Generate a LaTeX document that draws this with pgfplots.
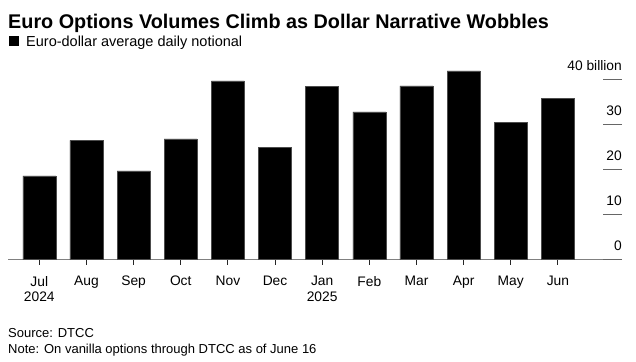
\documentclass[border=0pt]{standalone}
\usepackage{pgfplots}
\pgfplotsset{compat=1.18}
\usepackage{fontspec}
\setmainfont{Liberation Sans}
\begin{document}
\begin{tikzpicture}[x=1bp,y=1bp]
\path[use as bounding box] (0,0) rectangle (636,361);
% title and subtitle
\node[anchor=base west, inner sep=0, font=\fontsize{19.8bp}{22bp}\selectfont\bfseries] at (8,332.3) {Euro Options Volumes Climb as Dollar Narrative Wobbles};
\fill[black] (8.5,314.7) rectangle (19,325.2);
\node[anchor=base west, inner sep=0, font=\fontsize{14.5bp}{16bp}\selectfont] at (26,314.7) {Euro-dollar average daily notional};
\begin{axis}[
  at={(8bp,101.5bp)}, anchor=south west,
  scale only axis, width=614bp, height=198bp,
  xmin=-0.664, xmax=12.36, ymin=0, ymax=44,
  axis x line*=bottom, axis y line=none,
  x axis line style={draw=black!50, line width=1.3bp, -},
  xtick=data,
  xticklabels={{Jul\\2024},Aug,Sep,Oct,Nov,Dec,{Jan\\2025},Feb,Mar,Apr,May,Jun},
  xticklabel style={align=center, font=\fontsize{13.8bp}{15.5bp}\selectfont, yshift=-8bp},
  tick align=outside, major tick length=5bp,
  xtick style={draw=black!85, line width=0.9bp},
  ybar, bar width=33bp,
]
\addplot[fill=black, draw=black!70, line width=0.4bp] coordinates {
 (0,18.6) (1,26.5) (2,19.7) (3,26.8) (4,39.7) (5,25.0)
 (6,38.5) (7,32.8) (8,38.6) (9,41.9) (10,30.5) (11,35.8)
};
\end{axis}
\begin{axis}[
  at={(8bp,101.5bp)}, anchor=south west,
  scale only axis, width=614bp, height=198bp,
  xmin=-0.664, xmax=12.36, ymin=0, ymax=44,
  axis x line=none, axis y line*=right,
  y axis line style={draw=none},
  ytick={0,10,20,30,40},
  yticklabels={0,10,20,30,40 billion},
  tick align=inside, major tick length=19bp,
  ytick style={draw=black!60, line width=1.2bp},
  yticklabel style={anchor=south east, inner xsep=0pt, inner ysep=0pt, yshift=8.5bp, xshift=0bp, font=\fontsize{13.8bp}{15.5bp}\selectfont},
]
\end{axis}
\node[anchor=base west, inner sep=0, font=\fontsize{13bp}{14bp}\selectfont] at (8,23.5) {Source: DTCC};
\node[anchor=base west, inner sep=0, font=\fontsize{13bp}{14bp}\selectfont] at (8,7.5) {Note: On vanilla options through DTCC as of June 16};
\end{tikzpicture}
\end{document}
